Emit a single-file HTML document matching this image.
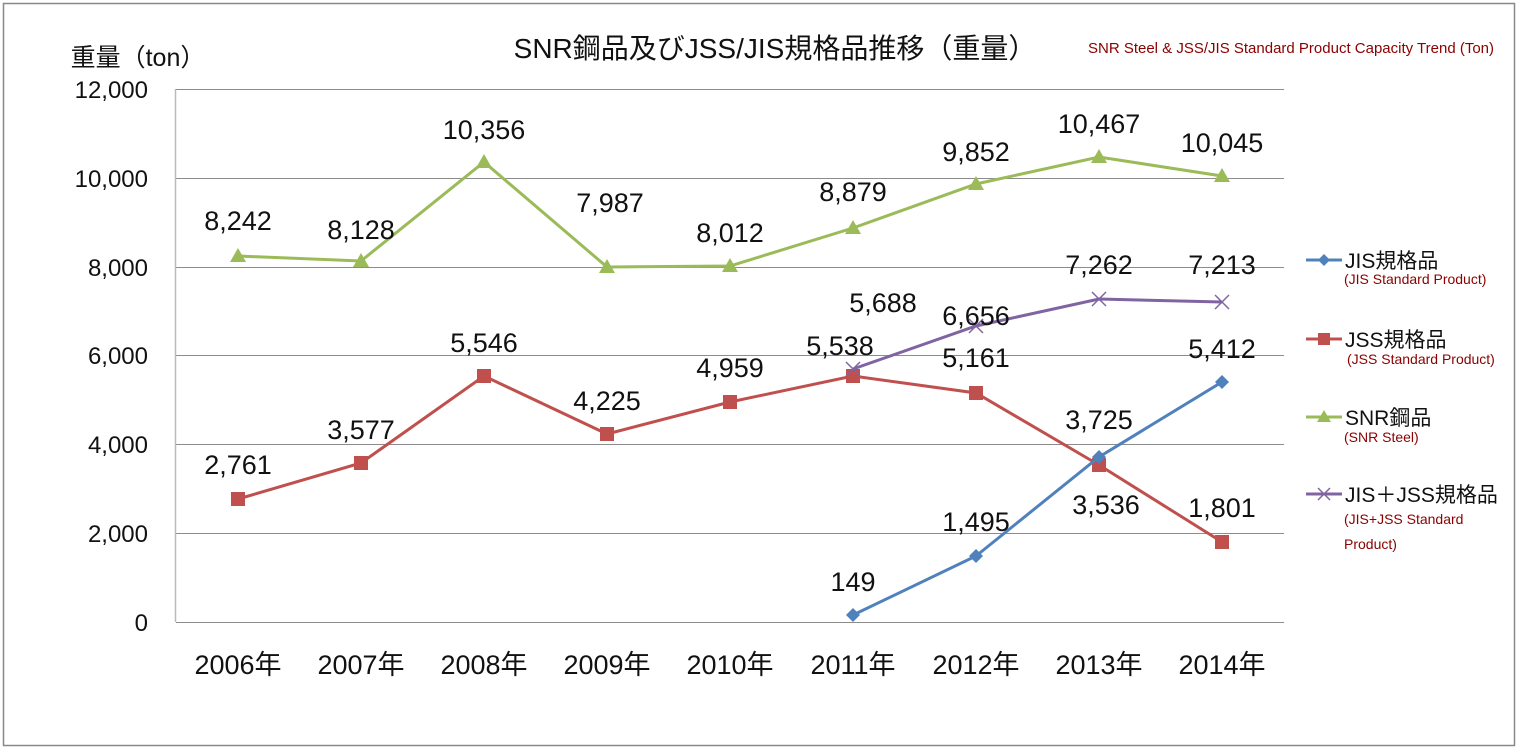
<!DOCTYPE html>
<html><head><meta charset="utf-8"><style>
html,body{margin:0;padding:0;background:#fff;}
svg{display:block;}
text{font-family:"Liberation Sans","Noto Sans CJK JP",sans-serif;}
</style></head><body>
<svg width="1520" height="752" xmlns="http://www.w3.org/2000/svg">
<rect x="3.5" y="3.5" width="1511" height="742" fill="#fff" stroke="#888" stroke-width="1.5"/>
<g stroke="#8c8c8c" stroke-width="1">
<line x1="176" y1="89.5" x2="1284" y2="89.5"/>
<line x1="176" y1="178.5" x2="1284" y2="178.5"/>
<line x1="176" y1="267.5" x2="1284" y2="267.5"/>
<line x1="176" y1="355.5" x2="1284" y2="355.5"/>
<line x1="176" y1="444.5" x2="1284" y2="444.5"/>
<line x1="176" y1="533.5" x2="1284" y2="533.5"/>
<line x1="176" y1="622.5" x2="1284" y2="622.5"/>
</g>
<line x1="175.5" y1="89" x2="175.5" y2="622" stroke="#bbb" stroke-width="1.5"/>
<text x="138" y="66" font-size="25" text-anchor="middle" fill="#111">重量（ton）</text>
<g font-size="24" fill="#111" text-anchor="end">
<text x="148" y="98">12,000</text><text x="148" y="187">10,000</text>
<text x="148" y="276">8,000</text><text x="148" y="364">6,000</text>
<text x="148" y="453">4,000</text><text x="148" y="542">2,000</text>
<text x="148" y="631">0</text>
</g>
<text x="775" y="58" font-size="28" text-anchor="middle" fill="#111">SNR鋼品及びJSS/JIS規格品推移（重量）</text>
<text x="1291" y="53" font-size="15" text-anchor="middle" fill="#8b0000">SNR Steel &amp; JSS/JIS Standard Product Capacity Trend (Ton)</text>
<g font-size="27" fill="#111" text-anchor="middle">
<text x="238" y="674">2006年</text><text x="361" y="674">2007年</text><text x="484" y="674">2008年</text>
<text x="607" y="674">2009年</text><text x="730" y="674">2010年</text><text x="853" y="674">2011年</text>
<text x="976" y="674">2012年</text><text x="1099" y="674">2013年</text><text x="1222" y="674">2014年</text>
</g>
<!-- SNR green -->
<polyline fill="none" stroke="#9BBB59" stroke-width="3" points="238,256 361,261 484,162 607,267 730,266 853,228 976,184 1099,157 1222,176"/>
<g fill="#9BBB59">
<polygon points="238,248 246,262 230,262"/><polygon points="361,253 369,267 353,267"/><polygon points="484,154 492,168 476,168"/>
<polygon points="607,259 615,273 599,273"/><polygon points="730,258 738,272 722,272"/><polygon points="853,220 861,234 845,234"/>
<polygon points="976,176 984,190 968,190"/><polygon points="1099,149 1107,163 1091,163"/><polygon points="1222,168 1230,182 1214,182"/>
</g>
<!-- JSS red -->
<polyline fill="none" stroke="#C0504D" stroke-width="3" points="238,499 361,463 484,376 607,434 730,402 853,376 976,393 1099,465 1222,542"/>
<g fill="#C0504D">
<rect x="231" y="492" width="14" height="14"/><rect x="354" y="456" width="14" height="14"/><rect x="477" y="369" width="14" height="14"/>
<rect x="600" y="427" width="14" height="14"/><rect x="723" y="395" width="14" height="14"/><rect x="846" y="369" width="14" height="14"/>
<rect x="969" y="386" width="14" height="14"/><rect x="1092" y="458" width="14" height="14"/><rect x="1215" y="535" width="14" height="14"/>
</g>
<!-- JIS blue -->
<polyline fill="none" stroke="#4F81BD" stroke-width="3" points="853,615 976,556 1099,457 1222,382"/>
<g fill="#4F81BD">
<polygon points="853,608 860,615 853,622 846,615"/><polygon points="976,549 983,556 976,563 969,556"/>
<polygon points="1099,450 1106,457 1099,464 1092,457"/><polygon points="1222,375 1229,382 1222,389 1215,382"/>
</g>
<!-- Sum purple -->
<polyline fill="none" stroke="#8064A2" stroke-width="3" points="853,369 976,326 1099,299 1222,302"/>
<g stroke="#8064A2" stroke-width="1.5">
<path d="M846,362L860,376M860,362L846,376"/><path d="M969,319L983,333M983,319L969,333"/>
<path d="M1092,292L1106,306M1106,292L1092,306"/><path d="M1215,295L1229,309M1229,295L1215,309"/>
</g>
<g font-size="27" fill="#111" text-anchor="middle" dominant-baseline="central">
<text x="238" y="221">8,242</text><text x="361" y="230">8,128</text><text x="484" y="130">10,356</text>
<text x="610" y="203">7,987</text><text x="730" y="233">8,012</text><text x="853" y="192">8,879</text>
<text x="976" y="152">9,852</text><text x="1099" y="124">10,467</text><text x="1222" y="143">10,045</text>
<text x="238" y="465">2,761</text><text x="361" y="430">3,577</text><text x="484" y="343">5,546</text>
<text x="607" y="401">4,225</text><text x="730" y="368">4,959</text><text x="840" y="346">5,538</text>
<text x="976" y="358">5,161</text><text x="1106" y="505">3,536</text><text x="1222" y="508">1,801</text>
<text x="853" y="582">149</text><text x="976" y="522">1,495</text><text x="1099" y="420">3,725</text><text x="1222" y="349">5,412</text>
<text x="883" y="303">5,688</text><text x="976" y="316">6,656</text><text x="1099" y="265">7,262</text><text x="1222" y="265">7,213</text>
</g>
<!-- legend -->
<g stroke-width="3">
<line x1="1306" y1="260" x2="1342" y2="260" stroke="#4F81BD"/>
<line x1="1306" y1="339" x2="1342" y2="339" stroke="#C0504D"/>
<line x1="1306" y1="417" x2="1342" y2="417" stroke="#9BBB59"/>
<line x1="1306" y1="494" x2="1342" y2="494" stroke="#8064A2"/>
</g>
<polygon points="1324,254 1330,260 1324,266 1318,260" fill="#4F81BD"/>
<rect x="1318" y="333" width="12" height="12" fill="#C0504D"/>
<polygon points="1324,410 1331,422 1317,422" fill="#9BBB59"/>
<path d="M1318,488L1330,500M1330,488L1318,500" stroke="#8064A2" stroke-width="1.5"/>
<g font-size="21" fill="#111">
<text x="1345" y="268">JIS規格品</text><text x="1345" y="347">JSS規格品</text>
<text x="1345" y="425">SNR鋼品</text><text x="1345" y="502">JIS＋JSS規格品</text>
</g>
<g font-size="14" fill="#8b0000">
<text x="1344" y="284">(JIS Standard Product)</text><text x="1347" y="364">(JSS Standard Product)</text>
<text x="1344" y="442">(SNR Steel)</text><text x="1344" y="524">(JIS+JSS Standard</text>
<text x="1344" y="549">Product)</text>
</g>
</svg>
</body></html>
